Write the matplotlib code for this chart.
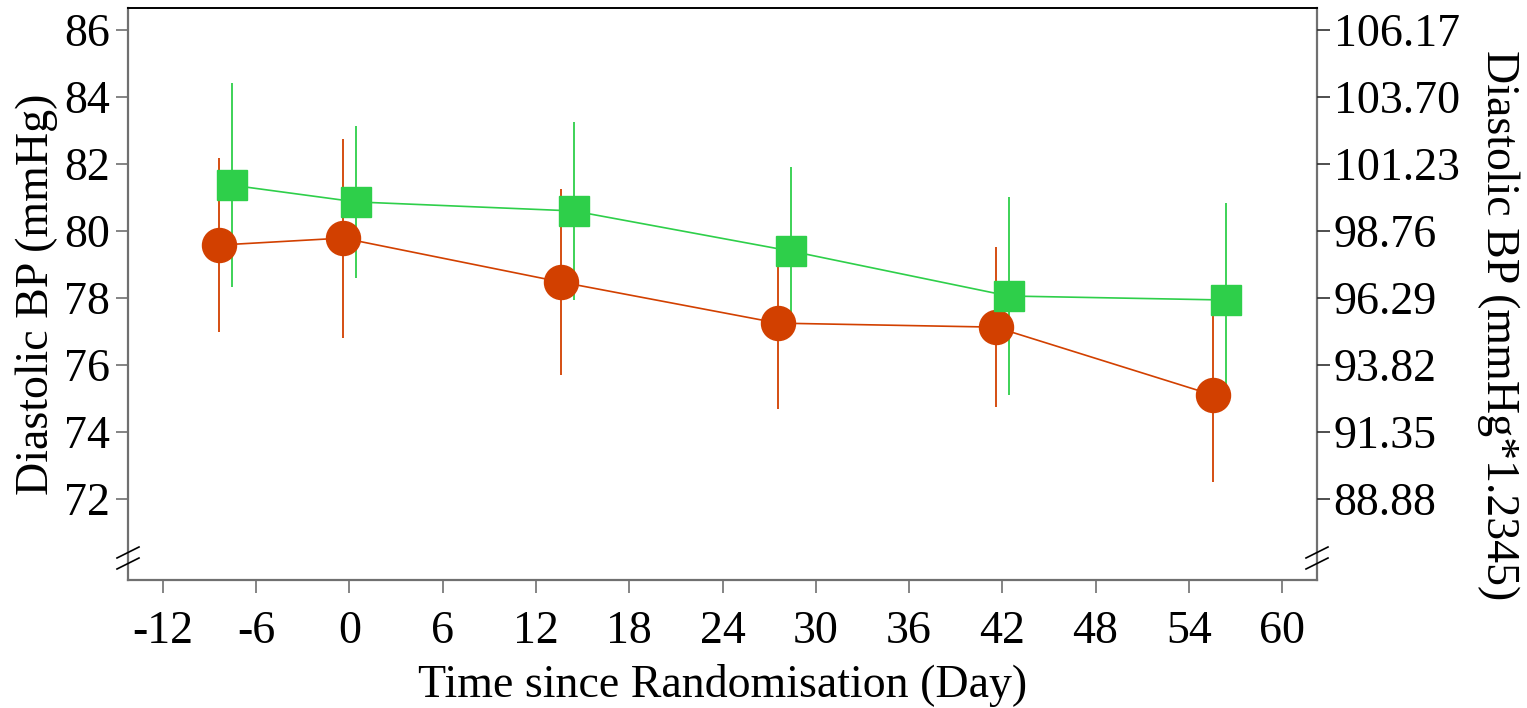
import matplotlib
matplotlib.use("Agg")
import matplotlib.pyplot as plt
import numpy as np

plt.rcParams['font.family'] = ['Liberation Serif', 'DejaVu Serif']
plt.rcParams['axes.unicode_minus'] = False

# Data
times = [-8, 0, 14, 28, 42, 56]
red_mean = [79.58, 79.79, 78.48, 77.25, 77.13, 75.10]
red_err = [2.60, 2.97, 2.78, 2.56, 2.38, 2.60]
green_mean = [81.37, 80.87, 80.60, 79.40, 78.06, 77.94]
green_err = [3.05, 2.28, 2.66, 2.51, 2.96, 2.90]
x_ticks = [-12, -6, 0, 6, 12, 18, 24, 30, 36, 42, 48, 54, 60]
y_ticks = [72, 74, 76, 78, 80, 82, 84, 86]
scale = 1.2345

dodge = 0.42
red_c = '#D24000'
green_c = '#2ECF4A'

fig = plt.figure(figsize=(15.27, 7.08), dpi=100)
ax = fig.add_axes([128/1527, 1-580/708, (1317-128)/1527, (580-8)/708])

tx = np.array(times, dtype=float)
rx = tx - dodge
gx = tx + dodge

# error bars first
ax.vlines(rx, np.array(red_mean) - np.array(red_err), np.array(red_mean) + np.array(red_err),
          color=red_c, lw=1.3, zorder=2)
ax.vlines(gx, np.array(green_mean) - np.array(green_err), np.array(green_mean) + np.array(green_err),
          color=green_c, lw=1.3, zorder=2)
# lines
ax.plot(rx, red_mean, color=red_c, lw=1.2, zorder=3)
ax.plot(gx, green_mean, color=green_c, lw=1.2, zorder=3)
# markers
ax.plot(rx, red_mean, 'o', ms=24.5, color=red_c, mec=red_c, zorder=5)
ax.plot(gx, green_mean, 's', ms=21.5, color=green_c, mec=green_c, zorder=5)

xlim = (-14.25, 62.25)
ylim = (69.58, 86.66)
ax.set_xlim(*xlim)
ax.set_ylim(*ylim)
ax.set_xticks(x_ticks)
ax.set_xticklabels([str(t) for t in x_ticks])
ax.set_yticks(y_ticks)
ax.set_yticklabels([str(t) for t in y_ticks])

spine_gray = '#707070'
for s in ['left', 'bottom', 'right']:
    ax.spines[s].set_color(spine_gray)
    ax.spines[s].set_linewidth(1.6)
ax.spines['top'].set_color('black')
ax.spines['top'].set_linewidth(1.4)

FS = 33
ax.tick_params(axis='both', labelsize=FS, length=9, width=1.2, color=spine_gray)
ax.tick_params(axis='x', pad=13)
ax.tick_params(axis='y', pad=4)
ax.set_xlabel('Time since Randomisation (Day)', fontsize=FS, labelpad=8)
ax.set_ylabel('Diastolic BP (mmHg)', fontsize=FS, labelpad=4)

ax2 = ax.twinx()
ax2.set_ylim(ylim[0]*scale, ylim[1]*scale)
ax2.set_yticks([t*scale for t in y_ticks])
ax2.set_yticklabels(['%.2f' % (t*scale) for t in y_ticks])
ax2.tick_params(axis='y', labelsize=FS, length=9, width=1.2, color='#303030', pad=3)
for s in ax2.spines.values():
    s.set_visible(False)

fig.text(1498/1527, 1-325/708, 'Diastolic BP (mmHg*1.2345)', rotation=-90,
         fontsize=FS, ha='center', va='center')

# axis break marks
for xpix in (128, 1317):
    for ypix in (558, 569):
        x0, x1 = (xpix-11)/1527, (xpix+11)/1527
        y0, y1 = 1-(ypix)/708, 1-(ypix-11)/708
        fig.add_artist(plt.Line2D([x0, x1], [y0, y1], color='black', lw=1.2,
                                  transform=fig.transFigure))

fig.savefig('out.png', dpi=100)
